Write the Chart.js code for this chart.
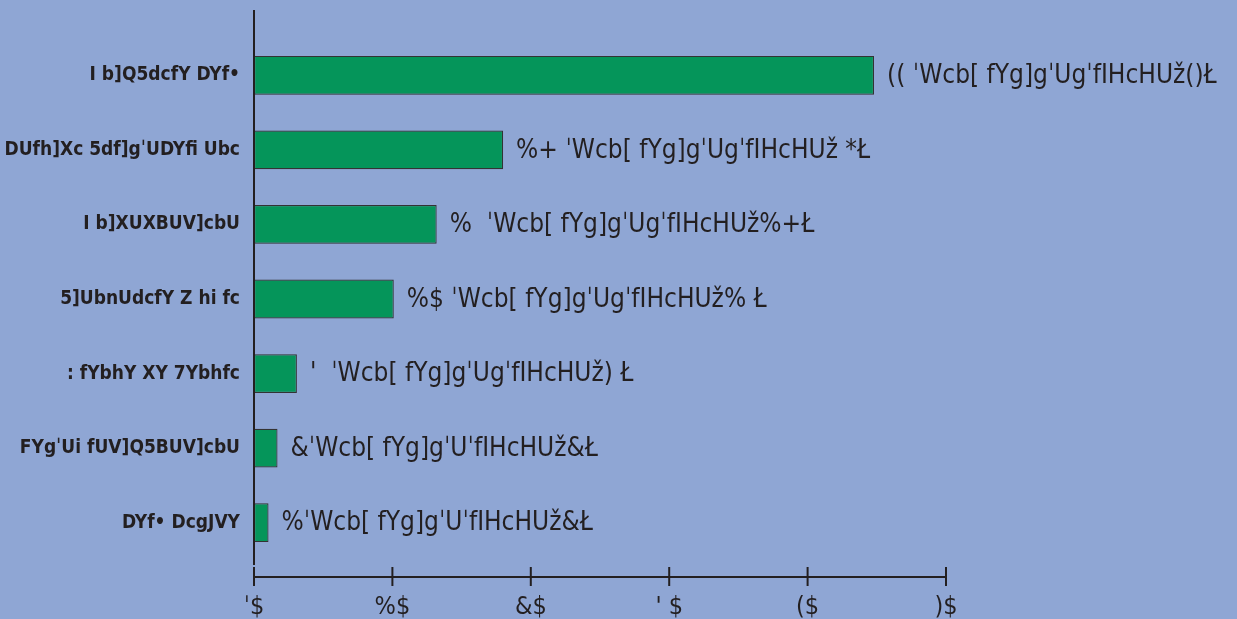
<!DOCTYPE html>
<html>
<head>
<meta charset="utf-8">
<script src="https://cdn.jsdelivr.net/npm/chart.js@4"></script>
<style>
  html, body { margin: 0; padding: 0; background: #8fa6d4; }
  #wrap { width: 1237px; height: 619px; }
</style>
</head>
<body>
<div id="wrap"><canvas id="grafico"></canvas></div>
<script>
// Datos (texto tal como aparece en la imagen)
const categorias = [
  "I b]Q5dcfY DYf•",
  "DUfh]Xc 5df]gˈUDYfi Ubc",
  "I b]XUXBUV]cbU",
  "5]UbnUdcfY Z hi fc",
  ": fYbhY XY 7Ybhfc",
  "FYgˈUi fUV]Q5BUV]cbU",
  "DYf• DcgJVY"
];
const valores = [44.8, 18, 13.2, 10.1, 3.1, 1.7, 1.05];
const etiquetas = [
  "(( ˈWcb[ fYg]gˈUgˈfIHcHUž()Ł",
  "%+ ˈWcb[ fYg]gˈUgˈfIHcHUž *Ł",
  "%  ˈWcb[ fYg]gˈUgˈfIHcHUž%+Ł",
  "%$ ˈWcb[ fYg]gˈUgˈfIHcHUž% Ł",
  "'  ˈWcb[ fYg]gˈUgˈfIHcHUž) Ł",
  "&ˈWcb[ fYg]gˈUˈfIHcHUž&Ł",
  "%ˈWcb[ fYg]gˈUˈfIHcHUž&Ł"
];
const ticksX = ["ˈ$", "%$", "&$", "' $", "($", ")$"];

const fondo = "#8fa6d4";
const tinta = "#231f20";
const fuente = "'Liberation Sans Narrow', 'DejaVu Sans Condensed', sans-serif";

// Fondo, ejes y etiquetas de valor
const extras = {
  id: "extras",
  beforeDraw(chart) {
    const c = chart.ctx;
    c.save();
    c.fillStyle = fondo;
    c.fillRect(0, 0, chart.width, chart.height);
    c.restore();
  },
  afterDatasetsDraw(chart) {
    const c = chart.ctx;
    const x = chart.scales.x;
    const a = chart.chartArea;
    const x0 = x.getPixelForValue(0);
    c.save();
    c.strokeStyle = tinta;
    c.lineWidth = 2;
    // eje vertical
    c.beginPath();
    c.moveTo(x0, a.top - 28);
    c.lineTo(x0, a.bottom + 5);
    c.stroke();
    // eje horizontal
    const yEje = a.bottom + 17;
    c.beginPath();
    c.moveTo(x0, yEje);
    c.lineTo(x.getPixelForValue(50), yEje);
    c.stroke();
    for (let v = 0; v <= 50; v += 10) {
      const px = x.getPixelForValue(v);
      c.beginPath();
      c.moveTo(px, yEje - 10);
      c.lineTo(px, yEje + 9);
      c.stroke();
    }
    // etiquetas de valor
    c.fillStyle = tinta;
    c.font = "26px " + fuente;
    c.textBaseline = "middle";
    c.textAlign = "left";
    chart.getDatasetMeta(0).data.forEach((bar, i) => {
      c.fillText(etiquetas[i], bar.x + 13, bar.y + 1);
    });
    c.restore();
  }
};

new Chart(document.getElementById("grafico"), {
  type: "bar",
  data: {
    labels: categorias,
    datasets: [{
      data: valores,
      backgroundColor: "#05955a",
      borderColor: "#333333",
      borderWidth: 1.2,
      borderSkipped: false,
      barPercentage: 0.52,
      categoryPercentage: 1
    }]
  },
  options: {
    indexAxis: "y",
    responsive: true,
    maintainAspectRatio: false,
    animation: false,
    layout: { padding: { top: 38, right: 291, bottom: 0, left: 0 } },
    plugins: { legend: { display: false }, tooltip: { enabled: false } },
    scales: {
      x: {
        min: 0,
        max: 50,
        grid: { display: false, drawTicks: false },
        border: { display: false },
        afterFit(s) { s.height = 59; },
        ticks: {
          stepSize: 10,
          padding: 32,
          maxRotation: 0,
          color: tinta,
          font: { family: fuente, size: 25 },
          callback: (v, i) => ticksX[i]
        }
      },
      y: {
        grid: { display: false, drawTicks: false },
        border: { display: false },
        afterFit(s) { s.width = 254; },
        ticks: {
          padding: 14,
          color: tinta,
          font: { family: fuente, size: 19, weight: "bold" }
        }
      }
    }
  },
  plugins: [extras]
});
</script>
</body>
</html>
